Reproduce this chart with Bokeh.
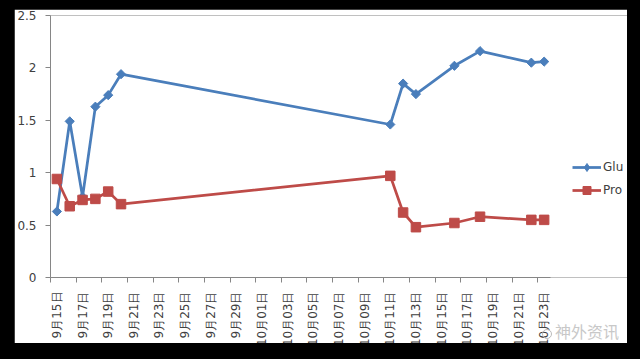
from datetime import date
from math import pi

from bokeh.plotting import figure
from bokeh.layouts import column
from bokeh.models import (Range1d, FixedTicker, NumeralTickFormatter, Legend,
                          LegendItem, Div, GlobalInlineStyleSheet)
from bokeh.embed import file_html
from bokeh.resources import INLINE

# ---- data -------------------------------------------------------------
dates = ["9-15", "9-16", "9-17", "9-18", "9-19", "9-20",
         "10-11", "10-12", "10-13", "10-16", "10-18", "10-22", "10-23"]
glu = [0.63, 1.49, 0.77, 1.63, 1.74, 1.94, 1.46, 1.85, 1.75, 2.02, 2.16, 2.05, 2.06]
pro = [0.94, 0.68, 0.74, 0.75, 0.82, 0.70, 0.97, 0.62, 0.48, 0.52, 0.58, 0.55, 0.55]

tick_labels = ["9月15日", "9月17日", "9月19日", "9月21日", "9月23日", "9月25日",
               "9月27日", "9月29日", "10月01日", "10月03日", "10月05日", "10月07日",
               "10月09日", "10月11日", "10月13日", "10月15日", "10月17日",
               "10月19日", "10月21日", "10月23日"]
series_names = ["Glu", "Pro"]
y_ticks = [0, 0.5, 1, 1.5, 2, 2.5]
watermark = "神外资讯"

start = date(2000, 9, 15)
def day_index(s):
    m, d = s.split("-")
    return (date(2000, int(m), int(d)) - start).days

xs = [day_index(s) for s in dates]
n_days = 39

# ---- figure -----------------------------------------------------------
# frame extends under the legend area; axis line limited with bounds
p = figure(width=613, height=341, output_backend="svg", toolbar_location=None,
           x_range=Range1d(-0.5, 44.5), y_range=Range1d(0, 2.5),
           min_border_left=35, min_border_right=0, min_border_top=6,
           min_border_bottom=73, background_fill_color="white",
           border_fill_color="white", outline_line_color=None)
p.styles = {"clip-path": "inset(0px 0px 7px 0px)"}

p.xgrid.visible = False
p.ygrid.visible = False

axis_col = "#868686"
label_col = "#404040"

xt = FixedTicker(ticks=[2 * i for i in range(len(tick_labels))],
                 minor_ticks=[-0.5 + 2 * i for i in range(len(tick_labels))])
p.xaxis.ticker = xt
p.xaxis.bounds = (-0.5, n_days - 0.5)
p.xaxis.major_label_overrides = {2 * i: t for i, t in enumerate(tick_labels)}
p.xaxis.major_label_orientation = pi / 2
p.xaxis.major_tick_line_color = None
p.xaxis.major_tick_out = 0
p.xaxis.major_tick_in = 0
p.xaxis.minor_tick_out = 5
p.xaxis.minor_tick_in = 0
p.xaxis.minor_tick_line_color = axis_col
p.xaxis.axis_line_color = axis_col
p.xaxis.major_label_standoff = 9
p.xaxis.major_label_text_font = "DejaVu Sans"
p.xaxis.major_label_text_font_size = "12px"
p.xaxis.major_label_text_color = label_col

p.yaxis.ticker = FixedTicker(ticks=y_ticks)
p.yaxis.formatter = NumeralTickFormatter(format="0.[0]")
p.yaxis.minor_tick_line_color = None
p.yaxis.major_tick_out = 5
p.yaxis.major_tick_in = 0
p.yaxis.major_tick_line_color = axis_col
p.yaxis.axis_line_color = axis_col
p.yaxis.major_label_standoff = 9
p.yaxis.major_label_text_font = "DejaVu Sans"
p.yaxis.major_label_text_font_size = "12px"
p.yaxis.major_label_text_color = label_col

blue = "#4A7EBB"
red = "#BE4B48"

l1 = p.line(xs, glu, line_color=blue, line_width=2.75)
m1 = p.scatter(xs, glu, marker="square", angle=pi / 4, size=6.5,
               fill_color=blue, line_color=blue)
l2 = p.line(xs, pro, line_color=red, line_width=2.75)
m2 = p.scatter(xs, pro, marker="square", size=9.5, fill_color=red, line_color=red)
# legend-only diamond swatch (a single NaN point, never drawn in the plot)
nan = float("nan")
k1 = p.scatter([nan], [nan], marker="diamond", size=10, fill_color=blue,
               line_color=blue)

legend = Legend(items=[LegendItem(label=series_names[0], renderers=[l1, k1]),
                       LegendItem(label=series_names[1], renderers=[l2, m2])],
                location=(522, 77), padding=0, margin=0, spacing=3,
                glyph_width=29, glyph_height=20, label_standoff=2,
                label_text_font="DejaVu Sans", label_text_font_size="12px",
                label_text_color=label_col, border_line_color=None,
                background_fill_alpha=0)
p.add_layout(legend, "center")

wm = Div(text='<span style="display:inline-block;width:10px;height:10px;'
              'border:1.5px solid #bbb;border-radius:50%;margin-right:3px;'
              'vertical-align:middle"></span>' + watermark,
         styles={"position": "absolute", "left": "523px", "top": "306px",
                 "z-index": "10", "color": "#c8c8c8", "font-size": "16px",
                 "font-family": "Noto Sans CJK SC", "white-space": "nowrap"})

layout = column(p, wm)
layout.stylesheets = [GlobalInlineStyleSheet(
    css="body{background:#000;margin:9px 0 0 14px;}")]

open("out.html", "w").write(file_html(layout, INLINE))
